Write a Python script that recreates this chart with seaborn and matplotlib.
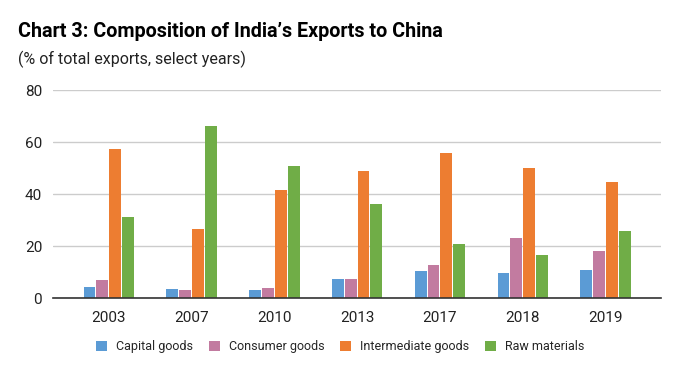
import pandas as pd
import matplotlib
matplotlib.use('Agg')
import matplotlib.pyplot as plt
import seaborn as sns

# data (% of total exports)
years = ['2003', '2007', '2010', '2013', '2017', '2018', '2019']
capital_goods = [4.3, 3.6, 3.2, 7.4, 10.5, 9.7, 10.9]
consumer_goods = [7.0, 3.2, 4.0, 7.4, 12.8, 23.2, 18.2]
intermediate_goods = [57.4, 26.6, 41.6, 49.0, 55.9, 50.1, 44.8]
raw_materials = [31.3, 66.3, 50.9, 36.3, 20.9, 16.6, 25.9]

categories = ['Capital goods', 'Consumer goods', 'Intermediate goods', 'Raw materials']
colors = ['#5B9BD5', '#C27BA0', '#ED7D31', '#70AD47']

df = pd.DataFrame({
    'year': years * 4,
    'category': [c for c in categories for _ in years],
    'value': capital_goods + consumer_goods + intermediate_goods + raw_materials,
})

sns.set_style('white')
plt.rcParams['font.family'] = ['Roboto', 'DejaVu Sans']

fig = plt.figure(figsize=(6.8, 3.71), dpi=100)
ax = fig.add_axes([0.0784, 0.196, 0.8936, 0.5614])

sns.barplot(data=df, x='year', y='value', hue='category', palette=colors,
            width=0.62, gap=0.08, saturation=1, ax=ax, legend=True)

ax.set_ylim(0, 80)
ax.set_xlim(-0.67, 6.67)
ax.set_yticks([0, 20, 40, 60, 80])
ax.yaxis.grid(True, color='#cccccc', linewidth=1)
ax.set_axisbelow(True)
ax.set_xlabel('')
ax.set_ylabel('')
for s in ['top', 'right', 'left']:
    ax.spines[s].set_visible(False)
ax.spines['bottom'].set_color('#333333')
ax.spines['bottom'].set_linewidth(1.2)
ax.tick_params(axis='both', length=0, labelsize=11, colors='#222222')
ax.tick_params(axis='y', pad=8)
ax.tick_params(axis='x', pad=9)

for bar in ax.patches:
    bar.set_edgecolor('none')

# legend centred on the figure, below the axis
legend_x = (0.5 - 0.0784) / 0.8936
ax.legend(loc='center', bbox_to_anchor=(legend_x, -0.232),
          ncol=4, frameon=False, fontsize=9, handlelength=0.9, handleheight=0.9,
          handletextpad=0.7, columnspacing=1.25, borderaxespad=0)

fig.text(0.026, 0.90, 'Chart 3: Composition of India\u2019s Exports to China',
         fontsize=14.2, fontweight='bold', color='#000000')
fig.text(0.026, 0.828, '(% of total exports, select years)', fontsize=11.5, color='#222222')

fig.savefig('out.png', dpi=100)
